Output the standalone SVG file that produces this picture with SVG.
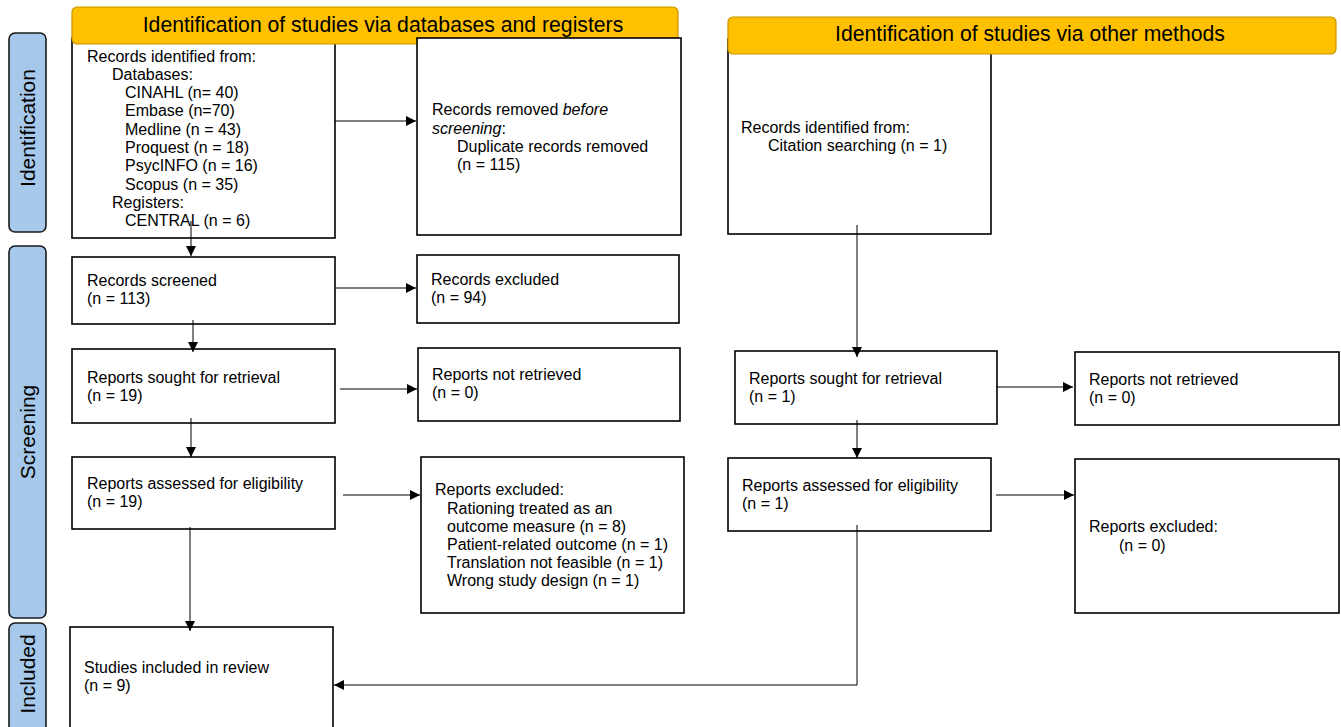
<svg xmlns="http://www.w3.org/2000/svg" width="1341" height="727" viewBox="0 0 1341 727">
<style>
.bg{fill:#fff}
.box{fill:#fff;stroke:#000;stroke-width:1.6}
.side{fill:#a6c8ea;stroke:#1a1a1a;stroke-width:1.6}
.hdr{fill:#ffc000;stroke:#c89600;stroke-width:1.2}
text{font-family:"Liberation Sans",Arial,sans-serif;fill:#000}
.t{font-size:16px}
.h{font-size:21.2px;text-anchor:middle}
.s{font-size:21px;text-anchor:middle}
.c{stroke:#000;stroke-width:1;fill:none}
</style>
<defs>
<marker id="ah" viewBox="0 0 10 10" refX="10" refY="5" markerWidth="10" markerHeight="10" markerUnits="userSpaceOnUse" orient="auto">
<path d="M0,0 L10,5 L0,10 z" fill="#000"/>
</marker>
</defs>
<rect class="bg" x="0" y="0" width="1341" height="727"/>

<g id="side-identification">
<rect class="side" x="9" y="33" width="37" height="199" rx="6"/>
<text class="s" transform="translate(35,128) rotate(-90)">Identification</text>
</g>
<g id="side-screening">
<rect class="side" x="9" y="246" width="37" height="372" rx="6"/>
<text class="s" transform="translate(35,432) rotate(-90)">Screening</text>
</g>
<g id="side-included">
<rect class="side" x="9" y="623" width="37" height="110" rx="6"/>
<text class="s" transform="translate(35,674) rotate(-90)">Included</text>
</g>

<g id="box-records-identified">
<rect class="box" x="72" y="38" width="263" height="200"/>
<text class="t" x="87" y="62">Records identified from:</text>
<text class="t" x="112" y="80">Databases:</text>
<text class="t" x="125" y="98">CINAHL (n= 40)</text>
<text class="t" x="125" y="116">Embase (n=70)</text>
<text class="t" x="125" y="135">Medline (n = 43)</text>
<text class="t" x="125" y="153">Proquest (n = 18)</text>
<text class="t" x="125" y="171">PsycINFO (n = 16)</text>
<text class="t" x="125" y="190">Scopus (n = 35)</text>
<text class="t" x="112" y="208">Registers:</text>
<text class="t" x="125" y="226">CENTRAL (n = 6)</text>
</g>

<g id="header-databases">
<rect class="hdr" x="72" y="7" width="606" height="37" rx="5"/>
<text class="h" x="383" y="32">Identification of studies via databases and registers</text>
</g>

<g id="box-records-removed">
<rect class="box" x="417" y="38" width="264" height="197"/>
<text class="t" x="432" y="115">Records removed <tspan font-style="italic">before</tspan></text>
<text class="t" x="432" y="134"><tspan font-style="italic">screening</tspan>:</text>
<text class="t" x="457" y="152">Duplicate records removed</text>
<text class="t" x="457" y="170">(n = 115)</text>
</g>

<g id="box-records-screened">
<rect class="box" x="72" y="257" width="263" height="67"/>
<text class="t" x="87" y="286">Records screened</text>
<text class="t" x="87" y="304">(n = 113)</text>
</g>

<g id="box-records-excluded">
<rect class="box" x="417" y="255" width="262" height="68"/>
<text class="t" x="431" y="285">Records excluded</text>
<text class="t" x="431" y="303">(n = 94)</text>
</g>

<g id="box-reports-sought">
<rect class="box" x="72" y="349" width="263" height="74"/>
<text class="t" x="87" y="383">Reports sought for retrieval</text>
<text class="t" x="87" y="401">(n = 19)</text>
</g>

<g id="box-reports-not-retrieved">
<rect class="box" x="418" y="348" width="262" height="73"/>
<text class="t" x="432" y="380">Reports not retrieved</text>
<text class="t" x="432" y="398">(n = 0)</text>
</g>

<g id="box-reports-assessed">
<rect class="box" x="72" y="457" width="263" height="72"/>
<text class="t" x="87" y="489">Reports assessed for eligibility</text>
<text class="t" x="87" y="507">(n = 19)</text>
</g>

<g id="box-reports-excluded">
<rect class="box" x="421" y="457" width="263" height="156"/>
<text class="t" x="435" y="495">Reports excluded:</text>
<text class="t" x="447" y="514">Rationing treated as an</text>
<text class="t" x="447" y="532">outcome measure (n = 8)</text>
<text class="t" x="447" y="550">Patient-related outcome (n = 1)</text>
<text class="t" x="447" y="568">Translation not feasible (n = 1)</text>
<text class="t" x="447" y="586">Wrong study design (n = 1)</text>
</g>

<g id="box-studies-included">
<rect class="box" x="70" y="627" width="263" height="110"/>
<text class="t" x="84" y="673">Studies included in review</text>
<text class="t" x="84" y="691">(n = 9)</text>
</g>

<g id="box-other-records-identified">
<rect class="box" x="728" y="39" width="263" height="195"/>
<text class="t" x="741" y="133">Records identified from:</text>
<text class="t" x="768" y="151">Citation searching (n = 1)</text>
</g>

<g id="header-other">
<rect class="hdr" x="728" y="17" width="608" height="37" rx="5"/>
<text class="h" x="1030" y="41">Identification of studies via other methods</text>
</g>

<g id="box-other-reports-sought">
<rect class="box" x="735" y="351" width="262" height="73"/>
<text class="t" x="749" y="384">Reports sought for retrieval</text>
<text class="t" x="749" y="402">(n = 1)</text>
</g>

<g id="box-other-reports-not-retrieved">
<rect class="box" x="1075" y="352" width="264" height="73"/>
<text class="t" x="1089" y="385">Reports not retrieved</text>
<text class="t" x="1089" y="403">(n = 0)</text>
</g>

<g id="box-other-reports-assessed">
<rect class="box" x="728" y="458" width="263" height="73"/>
<text class="t" x="742" y="491">Reports assessed for eligibility</text>
<text class="t" x="742" y="509">(n = 1)</text>
</g>

<g id="box-other-reports-excluded">
<rect class="box" x="1075" y="459" width="264" height="154"/>
<text class="t" x="1089" y="532">Reports excluded:</text>
<text class="t" x="1119" y="551">(n = 0)</text>
</g>

<g id="connectors">
<line class="c" x1="335" y1="121" x2="416" y2="121" marker-end="url(#ah)"/>
<line class="c" x1="191" y1="221" x2="191" y2="256" marker-end="url(#ah)"/>
<line class="c" x1="335" y1="288" x2="416" y2="288" marker-end="url(#ah)"/>
<line class="c" x1="193" y1="320" x2="193" y2="352" marker-end="url(#ah)"/>
<line class="c" x1="340" y1="389" x2="417" y2="389" marker-end="url(#ah)"/>
<line class="c" x1="191" y1="418" x2="191" y2="457" marker-end="url(#ah)"/>
<line class="c" x1="343" y1="495" x2="420" y2="495" marker-end="url(#ah)"/>
<line class="c" x1="190" y1="527" x2="190" y2="631" marker-end="url(#ah)"/>
<line class="c" x1="857" y1="225" x2="857" y2="357" marker-end="url(#ah)"/>
<line class="c" x1="996" y1="387" x2="1073" y2="387" marker-end="url(#ah)"/>
<line class="c" x1="857" y1="420" x2="857" y2="458" marker-end="url(#ah)"/>
<line class="c" x1="996" y1="495" x2="1074" y2="495" marker-end="url(#ah)"/>
<polyline class="c" points="857,525 857,685 334,685" marker-end="url(#ah)"/>
</g>
</svg>
